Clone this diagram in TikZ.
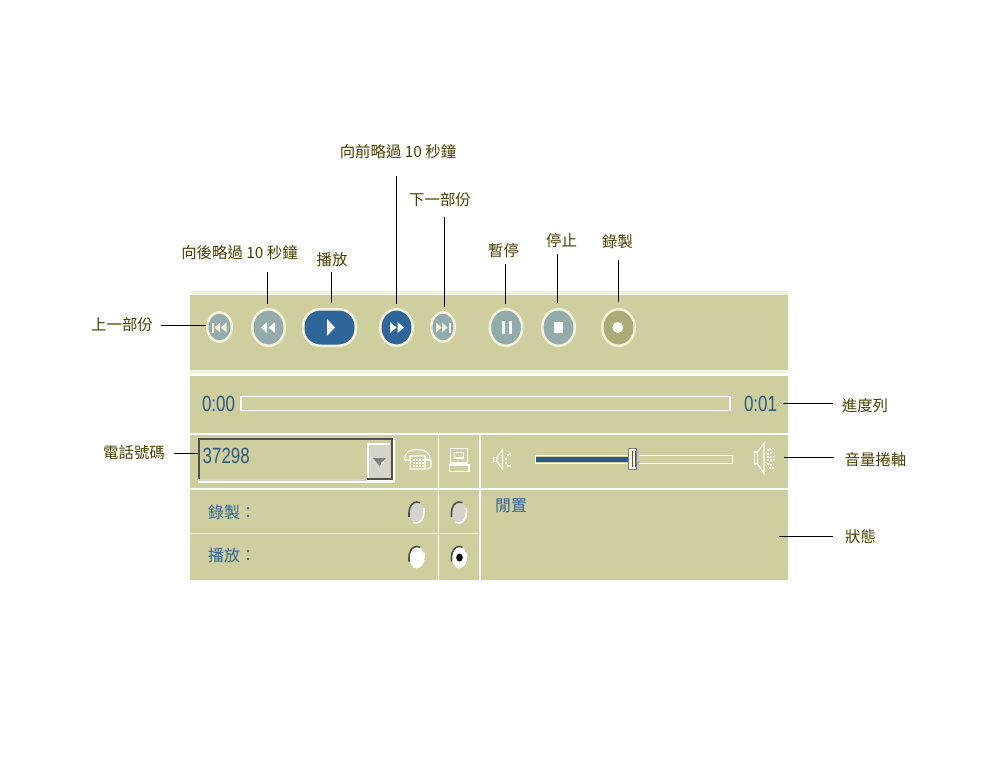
\documentclass[tikz,border=0pt]{standalone}
\usepackage{fontspec}
\usepackage{graphicx}
\setmainfont{Noto Sans CJK TC}
\newfontfamily\latinui{Liberation Sans}
\usetikzlibrary{shapes.geometric,calc}
\definecolor{panel}{HTML}{CFCE9F}
\definecolor{creamline}{HTML}{F2F0D2}
\definecolor{bluea}{HTML}{2F6699}
\definecolor{blued}{HTML}{2C5A85}
\definecolor{greyb}{HTML}{94ABAB}
\definecolor{recb}{HTML}{ABAB77}
\definecolor{ringc}{HTML}{F4F2DC}
\definecolor{lblc}{HTML}{4A4000}
\definecolor{wgrey}{HTML}{D4D4CC}
\definecolor{dgrey}{HTML}{505050}
\newcommand{\narrownum}[1]{\scalebox{.77}[1]{\latinui\fontsize{22}{24}\selectfont #1}}
\tikzset{
  x=1pt,y=-1pt,
  lbl/.style={text=lblc,font=\fontsize{15.4}{17}\selectfont,inner sep=0pt,anchor=center},
  uitext/.style={text=bluea,font=\fontsize{16}{18}\selectfont,inner sep=0pt,anchor=west},
  numtext/.style={text=blued,inner sep=0pt,anchor=center},
  lead/.style={draw=black,line width=1.2pt},
  rbtn/.style={ellipse,draw=ringc,line width=2.5pt,inner sep=0pt,minimum width=#1},
  glyph/.style={fill=ringc,draw=none},
  wl/.style={draw=white,line width=#1},
  ic/.style={draw=white,line width=1.1pt,fill=none},
}
\begin{document}
\begin{tikzpicture}
\useasboundingbox (0,0) rectangle (992,768);
% panels
\fill[white] (0,0) rectangle (992,768);
\fill[panel] (190,295) rectangle (788,579.5);
\fill[creamline] (190,291) rectangle (788,293.5);
\fill[white] (190,369.5) rectangle (788,376);
\fill[creamline] (190,371) rectangle (788,373.3);
\draw[wl=2pt] (190,434) -- (788,434);
\draw[wl=2pt] (190,488.7) -- (788,488.7);
\draw[wl=1.2pt] (438.3,434) -- (438.3,579.5);
\draw[wl=2pt] (479.5,434) -- (479.5,579.5);
\draw[draw=creamline,line width=1.2pt] (190,533.7) -- (479,533.7);
% buttons
\node[rbtn=24.5pt,minimum height=29.5pt,fill=greyb] (bprev) at (219.5,327) {};
\node[rbtn=32.5pt,minimum height=36.5pt,fill=greyb] (brew) at (268.5,327.5) {};
\node[draw=ringc,line width=2.5pt,fill=bluea,rounded corners=17pt,minimum width=52.5pt,minimum height=36.5pt,inner sep=0pt] (bplay) at (329.5,327.5) {};
\node[rbtn=32.5pt,minimum height=36.5pt,fill=bluea] (bff) at (396.5,327.5) {};
\node[rbtn=23.5pt,minimum height=29.5pt,fill=greyb] (bnext) at (443,327) {};
\node[rbtn=32.5pt,minimum height=36.5pt,fill=greyb] (bpause) at (506,327.5) {};
\node[rbtn=32.5pt,minimum height=36.5pt,fill=greyb] (bstop) at (558.5,327.5) {};
\node[rbtn=32.5pt,minimum height=36.5pt,fill=recb] (brec) at (618.5,327.5) {};
% button glyphs
\fill[glyph] (212,322.5) rectangle (213.6,332.5);
\fill[glyph] (214.5,327.5) -- (220,322.5) -- (220,332.5) -- cycle;
\fill[glyph] (221,327.5) -- (226.5,322.5) -- (226.5,332.5) -- cycle;
\fill[white] (261,327.5) -- (267,322) -- (267,333) -- cycle;
\fill[white] (268.5,327.5) -- (275,322) -- (275,333) -- cycle;
\fill[white] (327,319) -- (335,327.5) -- (327,336) -- cycle;
\fill[white] (390,322) -- (396.5,327.5) -- (390,333) -- cycle;
\fill[white] (397.5,322) -- (404,327.5) -- (397.5,333) -- cycle;
\fill[glyph] (436,322.5) -- (441.5,327.5) -- (436,332.5) -- cycle;
\fill[glyph] (442,322.5) -- (447.5,327.5) -- (442,332.5) -- cycle;
\fill[glyph] (449,322.5) rectangle (450.5,332.5);
\fill[white] (502,321) rectangle (505,334);
\fill[white] (509,321) rectangle (512,334);
\fill[white] (554,322) rectangle (563,333);
\fill[white] (617.8,327.5) ellipse (5.5 and 5.5);
% top and side labels
\node[lbl] (tprev) at (122,325) {上一部份};
\node[lbl] (trew) at (239.5,253) {向後略過 10 秒鐘};
\node[lbl] (tplay) at (332,260) {播放};
\node[lbl] (tff) at (398,152) {向前略過 10 秒鐘};
\node[lbl] (tnext) at (440,200) {下一部份};
\node[lbl] (tpause) at (503.5,251) {暫停};
\node[lbl] (tstop) at (561.5,241) {停止};
\node[lbl] (trec) at (617.5,242) {錄製};
\node[lbl] (tphone) at (134,453) {電話號碼};
\node[lbl] (tprog) at (865,406) {進度列};
\node[lbl] (tvol) at (875.5,460) {音量捲軸};
\node[lbl] (tstat) at (860.5,537) {狀態};
% progress
\node[numtext] (t0) at (218.5,404) {\narrownum{0:00}};
\node[draw=white,line width=1.6pt,fill=none,minimum width=489pt,minimum height=14pt,inner sep=0pt] (bar) at (485.5,403.5) {};
\node[numtext] (t1) at (760.5,404) {\narrownum{0:01}};
% phone box
\fill[white] (198,438) rectangle (395,483);
\fill[panel] (200,440) rectangle (391,478.5);
\draw[dgrey,line width=2.4pt] (199.2,478.5) -- (199.2,439.2) -- (391.8,439.2) -- (391.8,478.8) -- (367,478.8);
\fill[wgrey] (198,479) rectangle (367,481);
\node[fill=wgrey,draw=none,minimum width=22pt,minimum height=34pt,inner sep=0pt] (combobtn) at (379,460.5) {};
\draw[white,line width=1.6pt] (368,477.5) -- (368,444) -- (390,444);
\fill[gray] (373,458) -- (386,458) -- (379.5,466) -- cycle;
\fill[white] (381,463) -- (384.5,460) -- (381,467) -- cycle;
\coordinate (combo) at (198,453.5);
\node[numtext,anchor=west] (tnum) at (202.5,456) {\narrownum{37298}};
% phone icon
\draw[ic] (404.5,460) .. controls (404.5,452) and (410,449.5) .. (417,449.5) .. controls (425,449.5) and (430,452) .. (430,460) -- (425,460) -- (425,456) -- (410,456) -- (410,460) -- cycle;
\draw[ic] (410.5,457) -- (410,469) -- (425,469) -- (425,457);
\foreach \px in {413,416,419,422} \foreach \py in {459,462,465} \fill[white] (\px,\py) rectangle +(1.6,1.6);
\draw[ic] (426,459) -- (431,461) -- (431,467) -- (426,469);
% computer icon
\draw[ic] (450.5,448.5) rectangle (467.5,463);
\draw[ic] (454.5,452.5) rectangle (463.5,458);
\draw[ic] (449.5,465) rectangle (469,471.5);
% volume icons
\draw[ic] (493.5,457.5) rectangle (497,461.5);
\draw[ic] (497,457.5) -- (502.5,449.5) -- (502.5,469) -- (497,461.5);
\foreach \px/\py in {507/454, 509/453, 505/458, 505/462, 507/465, 509/465} \fill[white] (\px,\py) rectangle +(1.6,1.6);
\draw[ic] (754.5,452) rectangle (757.5,464);
\draw[ic] (757.5,452) -- (764,443) -- (764,473.5) -- (757.5,464);
\foreach \px/\py in {767/449, 769/448, 772/447.5, 767/453, 770/452, 767/456, 770/456, 773/456, 767/459, 770/459, 773/459, 767/463, 770/464, 769/467, 772/467} \fill[white] (\px,\py) rectangle +(1.5,1.5);
% slider
\node[draw=white,line width=1.6pt,fill=panel,minimum width=197pt,minimum height=8pt,inner sep=0pt] (track) at (634,459.5) {};
\fill[blued] (536,457) rectangle (629,462);
\fill[lightgray] (636,448) rectangle (639,470);
\node[draw=gray,line width=1pt,fill=ringc,minimum width=8pt,minimum height=21pt,inner sep=0pt] (thumb) at (632.5,459) {};
\draw[dgrey,line width=.8pt] (632,451) -- (632,467) (635,451) -- (635,467);
% radios
\foreach \nm/\rx/\ry/\rf in {ra/416.5/512.5/wgrey,rb/459/512.5/wgrey,rc/416.5/557/white,rd/459/557/white}{
  \node[ellipse,fill=\rf,minimum width=15pt,minimum height=21pt,inner sep=0pt] (\nm) at (\rx,\ry) {};
  \draw[dgrey,line width=1.6pt] (\rx-7.5,\ry+4.5) -- (\rx-7.5,\ry) .. controls (\rx-7.5,\ry-5.8) and (\rx-4.1,\ry-10.5) .. (\rx,\ry-10.5) -- (\rx+3.5,\ry-9.8);
  \draw[white,line width=1.6pt] (\rx+7.5,\ry-4.5) -- (\rx+7.5,\ry) .. controls (\rx+7.5,\ry+5.8) and (\rx+4.1,\ry+10.5) .. (\rx,\ry+10.5) -- (\rx-3.5,\ry+9.8);
}
\fill[black] (459.5,557.5) ellipse (3.3 and 4);
% ui labels
\node[uitext] (trecl) at (208,512) {錄製：};
\node[uitext] (tplayl) at (208,555) {播放：};
\node[uitext] (tidle) at (495,506) {閒置};
% leader lines
\draw[lead] ($(tprev.east)+(8,.5)$) -- ($(bprev.west)+(0,-1.5)$);
\draw[lead] ($(brew.north)+(-1,-36)$) -- ($(brew.north)+(-1,-4)$);
\draw[lead] ($(bplay.north)+(2,-36)$) -- ($(bplay.north)+(2,-5)$);
\draw[lead] ($(bff.north)+(0,-132)$) -- ($(bff.north)+(0,-4.5)$);
\draw[lead] ($(bnext.north)+(1.5,-94)$) -- ($(bnext.north)+(1.5,-4)$);
\draw[lead] ($(bpause.north)+(-.5,-44)$) -- ($(bpause.north)+(-.5,-4.5)$);
\draw[lead] ($(bstop.north)+(-1,-54)$) -- ($(bstop.north)+(-1,-5.5)$);
\draw[lead] ($(brec.north)+(0,-48)$) -- ($(brec.north)+(0,-6)$);
\draw[lead] ($(tphone.east)+(9,.5)$) -- (combo);
\draw[lead] ($(bar.east)+(52.5,0)$) -- ($(tprog.west)+(-9,-2.5)$);
\draw[lead] ($(thumb.east)+(147,-1.5)$) -- ($(tvol.west)+(-11,-2.5)$);
\draw[lead] ($(tstat.west)+(-66,-.5)$) -- ($(tstat.west)+(-12,-.5)$);
\end{tikzpicture}
\end{document}
